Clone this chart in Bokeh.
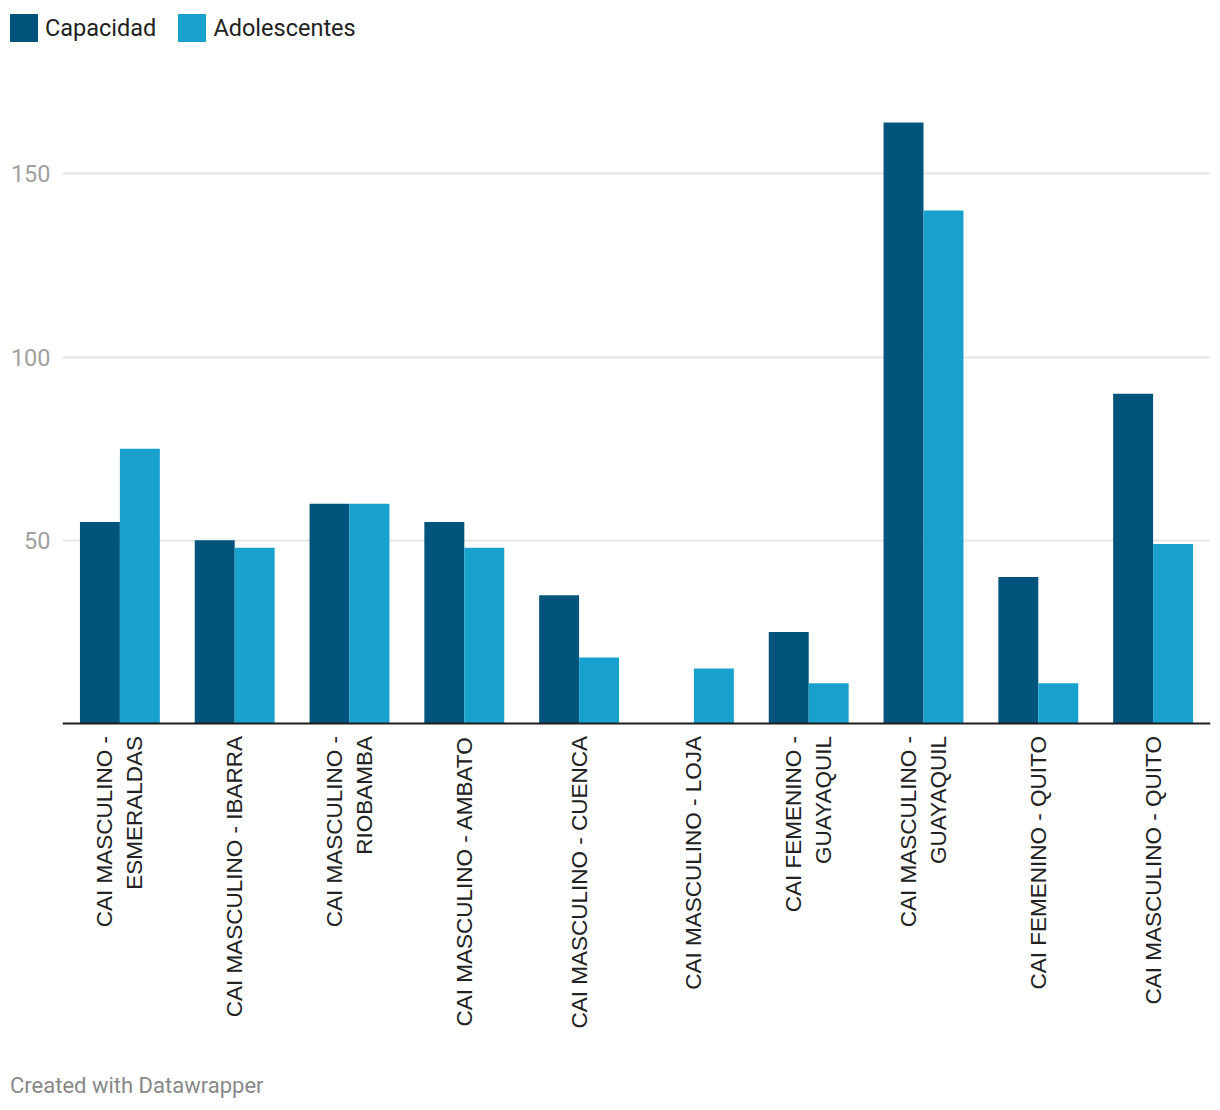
import math
from bokeh.plotting import figure
from bokeh.layouts import column
from bokeh.models import (ColumnDataSource, FactorRange, Range1d, FixedTicker,
                          Span, Div)
from bokeh.core.properties import value
from bokeh.transform import dodge
from bokeh.embed import file_html
from bokeh.resources import INLINE

categories = [
    "CAI MASCULINO - ESMERALDAS",
    "CAI MASCULINO - IBARRA",
    "CAI MASCULINO - RIOBAMBA",
    "CAI MASCULINO - AMBATO",
    "CAI MASCULINO - CUENCA",
    "CAI MASCULINO - LOJA",
    "CAI FEMENINO - GUAYAQUIL",
    "CAI MASCULINO - GUAYAQUIL",
    "CAI FEMENINO - QUITO",
    "CAI MASCULINO - QUITO",
]
tick_labels = [
    "CAI MASCULINO -\nESMERALDAS",
    "CAI MASCULINO - IBARRA",
    "CAI MASCULINO -\nRIOBAMBA",
    "CAI MASCULINO - AMBATO",
    "CAI MASCULINO - CUENCA",
    "CAI MASCULINO - LOJA",
    "CAI FEMENINO -\nGUAYAQUIL",
    "CAI MASCULINO -\nGUAYAQUIL",
    "CAI FEMENINO - QUITO",
    "CAI MASCULINO - QUITO",
]
capacidad = [55, 50, 60, 55, 35, 0, 25, 164, 40, 90]
adolescentes = [75, 48, 60, 48, 18, 15, 11, 140, 11, 49]
y_ticks = [50, 100, 150]
series_names = ["Capacidad", "Adolescentes"]
footer_text = "Created with Datawrapper"

C_DARK = "#03547c"
C_LIGHT = "#19a1cd"
colors = [C_DARK, C_LIGHT]
W = 1220
TOP_H, MAIN_H, FOOT_H = 100, 950, 60

# ---------- legend strip (HTML) ----------
items_html = ""
for i, (name, col) in enumerate(zip(series_names, colors)):
    ml = "0px" if i == 0 else "22px"
    items_html += (
        f'<span style="display:inline-block;width:28px;height:28px;'
        f'background:{col};margin-left:{ml};margin-right:7px;flex:none"></span>'
        f'<span style="line-height:28px">{name}</span>'
    )
legend_div = Div(
    text=(f'<div style="display:flex;align-items:center;padding-left:10px;'
          f'padding-top:14px;font-family:Roboto;font-size:23.5px;color:#222222;'
          f'white-space:nowrap">{items_html}</div>'),
    width=W, height=TOP_H, margin=(0, 0, 0, 0))

# ---------- main chart ----------
source = ColumnDataSource(dict(cat=categories, label=tick_labels,
                               capacidad=capacidad, adolescentes=adolescentes))

p = figure(x_range=FactorRange(*categories, range_padding=0),
           y_range=Range1d(-89.2, 170),
           width=W, height=MAIN_H,
           min_border_left=62, min_border_right=10,
           min_border_top=0, min_border_bottom=0,
           output_backend="svg", toolbar_location=None)
p.outline_line_color = None
p.background_fill_color = "white"
p.border_fill_color = "white"

p.vbar(x=dodge("cat", -0.174, range=p.x_range), top="capacidad",
       width=0.348, source=source, fill_color=C_DARK, line_color=None)
p.vbar(x=dodge("cat", 0.174, range=p.x_range), top="adolescentes",
       width=0.348, source=source, fill_color=C_LIGHT, line_color=None)

p.add_layout(Span(location=0, dimension="width", line_color="#1d1d1d",
                  line_width=2))

p.text(x="cat", y=0, text="label", source=source, angle=math.pi / 2,
       y_offset=12.5, text_align="right", text_baseline="middle",
       text_font=value("Liberation Sans"), text_font_size="22.5px",
       text_color="#222222", text_line_height=1.2)

# grid
p.xgrid.grid_line_color = None
p.ygrid.ticker = FixedTicker(ticks=y_ticks)
p.ygrid.grid_line_color = "#e6e6e6"
p.ygrid.grid_line_width = 2
p.ygrid.level = "underlay"

# axes
p.xaxis.visible = False
p.yaxis.ticker = FixedTicker(ticks=y_ticks)
p.yaxis.axis_line_color = None
p.yaxis.major_tick_line_color = None
p.yaxis.major_tick_out = 0
p.yaxis.major_tick_in = 0
p.yaxis.minor_tick_line_color = None
p.yaxis.major_label_text_font = "Roboto"
p.yaxis.major_label_text_font_size = "23.5px"
p.yaxis.major_label_text_color = "#a0a0a0"
p.yaxis.major_label_standoff = 12

# ---------- footer strip (HTML) ----------
foot_div = Div(
    text=(f'<div style="padding-left:10px;padding-top:23px;font-family:Roboto;'
          f'font-size:22px;line-height:26px;color:#888888;white-space:nowrap">'
          f'{footer_text}</div>'),
    width=W, height=FOOT_H, margin=(0, 0, 0, 0))

layout = column(legend_div, p, foot_div, spacing=0)
open("out.html", "w").write(file_html(layout, INLINE))
